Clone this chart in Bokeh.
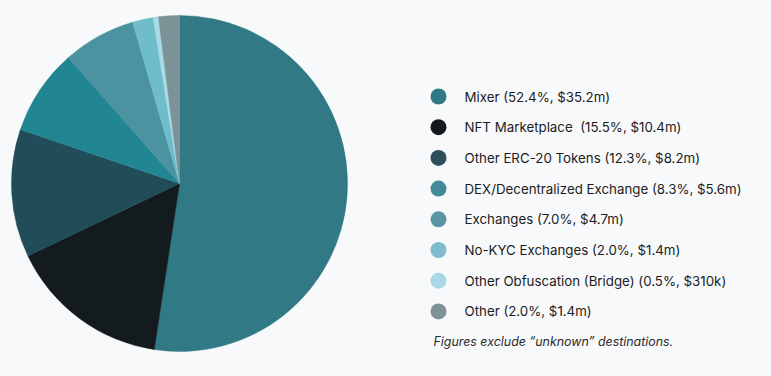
import numpy as np
from bokeh.plotting import figure
from bokeh.models import Range1d, ColumnDataSource
from bokeh.core.properties import value
from bokeh.embed import file_html
from bokeh.resources import INLINE

categories = ["Mixer", "NFT Marketplace", "Other ERC-20 Tokens", "DEX/Decentralized Exchange",
              "Exchanges", "No-KYC Exchanges", "Other Obfuscation (Bridge)", "Other"]
shares = [52.4, 15.5, 12.3, 8.3, 7.0, 2.0, 0.5, 2.0]
amounts = ["$35.2m", "$10.4m", "$8.2m", "$5.6m", "$4.7m", "$1.4m", "$310k", "$1.4m"]
labels = ["Mixer (52.4%, $35.2m)", "NFT Marketplace\u00a0 (15.5%, $10.4m)", "Other ERC-20 Tokens (12.3%, $8.2m)",
          "DEX/Decentralized Exchange (8.3%, $5.6m)", "Exchanges (7.0%, $4.7m)",
          "No-KYC Exchanges (2.0%, $1.4m)", "Other Obfuscation (Bridge) (0.5%, $310k)", "Other (2.0%, $1.4m)"]
wedge_colors = ["#317985", "#131b1f", "#204d57", "#228592", "#4b93a1", "#6fbccb", "#a8dbe6", "#7b9396"]
legend_colors = ["#2f7885", "#131b1f", "#2d4e5a", "#428b96", "#5b95a3", "#7fbccd", "#a9d8e5", "#7f9297"]
note = "Figures exclude \u201cunknown\u201d destinations."

W, H = 771, 376
BG = "#f8f9fb"
p = figure(width=W, height=H, x_range=Range1d(0, W), y_range=Range1d(0, H),
           output_backend="svg", toolbar_location=None, min_border=0)
p.axis.visible = False
p.grid.visible = False
p.outline_line_color = None
p.background_fill_color = BG
p.border_fill_color = BG

frac = np.array(shares) / sum(shares)
cum = np.concatenate([[0], np.cumsum(frac)])
start = np.pi / 2 - 2 * np.pi * cum[:-1]
end = np.pi / 2 - 2 * np.pi * cum[1:]
cx, cy, r = 179, H - 183, 168
src = ColumnDataSource(dict(start=start, end=end, color=wedge_colors))
p.wedge(x=cx, y=cy, radius=r, start_angle="start", end_angle="end", direction="clock",
        fill_color="color", line_color="color", line_width=0.5, source=src)

row0, step = 96, 30.7
ys = [H - (row0 + i * step) for i in range(len(categories))]
lsrc = ColumnDataSource(dict(y=ys, color=legend_colors, label=labels))
p.scatter(x=438, y="y", size=16, fill_color="color", line_color=None, source=lsrc)
p.text(x=464, y="y", text="label", source=lsrc, text_font=value("Inter"), text_font_size="13.3px",
       text_baseline="middle", text_color="#1c1c1c")
p.text(x=[433], y=[H - 341], text=[note], text_font=value("Inter"), text_font_size="12.4px",
       text_font_style="italic", text_baseline="middle", text_color="#2a2a2a")

open("out.html", "w").write(file_html(p, INLINE))
